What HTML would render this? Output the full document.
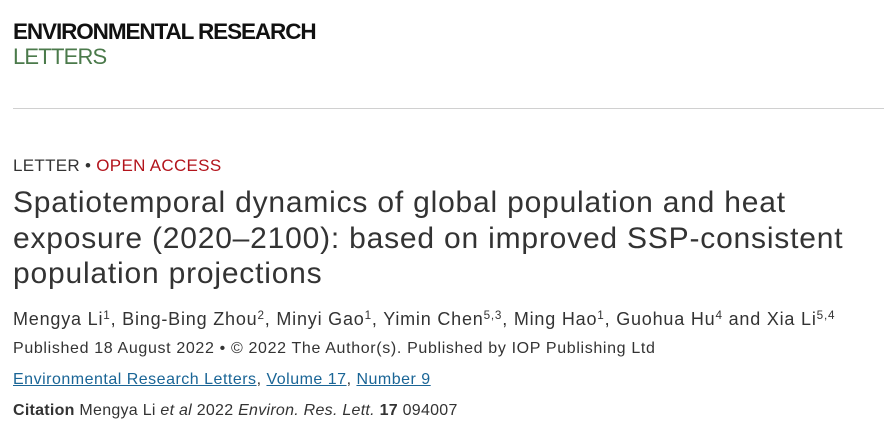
<!DOCTYPE html>
<html><head><meta charset="utf-8"><style>
body{margin:0;width:884px;height:433px;background:#fff;font-family:"Liberation Sans",sans-serif;position:relative;overflow:hidden}
.a{position:absolute;left:13px;white-space:nowrap}
sup{font-size:65%;vertical-align:0;position:relative;top:-0.5em}
a{color:#1a6596;text-decoration:underline}
</style></head><body>
<div class="a" style="top:19px;font-size:22.5px;font-weight:bold;color:#111;letter-spacing:-1.1px;line-height:26px">ENVIRONMENTAL RESEARCH</div>
<div class="a" style="top:44px;font-size:22px;color:#4b7a4b;letter-spacing:-0.8px;line-height:26px">LETTERS</div>
<div style="position:absolute;left:13px;right:0;top:108px;height:1px;background:#d0d0d0"></div>
<div class="a" style="top:156px;font-size:17px;color:#333;line-height:20px;letter-spacing:0.3px">LETTER • <span style="color:#b3141c">OPEN ACCESS</span></div>
<div class="a" style="top:185px;font-size:30px;color:#333;line-height:35.5px;letter-spacing:0.8px">Spatiotemporal dynamics of global population and heat<br>exposure (2020–2100): based on improved SSP-consistent<br>population projections</div>
<div class="a" style="top:307px;font-size:18px;color:#333;line-height:24px;letter-spacing:0.8px">Mengya Li<sup>1</sup>, Bing-Bing Zhou<sup>2</sup>, Minyi Gao<sup>1</sup>, Yimin Chen<sup>5,3</sup>, Ming Hao<sup>1</sup>, Guohua Hu<sup>4</sup> and Xia Li<sup>5,4</sup></div>
<div class="a" style="top:339px;font-size:16px;color:#333;line-height:20px;letter-spacing:0.65px">Published 18 August 2022 • © 2022 The Author(s). Published by IOP Publishing Ltd</div>
<div class="a" style="top:370px;font-size:16px;color:#333;line-height:20px;letter-spacing:0.5px"><a>Environmental Research Letters</a>, <a>Volume 17</a>, <a>Number 9</a></div>
<div class="a" style="top:401px;font-size:16px;color:#333;line-height:20px;letter-spacing:0.27px"><b>Citation</b> Mengya Li <i>et al</i> 2022 <i>Environ. Res. Lett.</i> <b>17</b> 094007</div>
</body></html>
